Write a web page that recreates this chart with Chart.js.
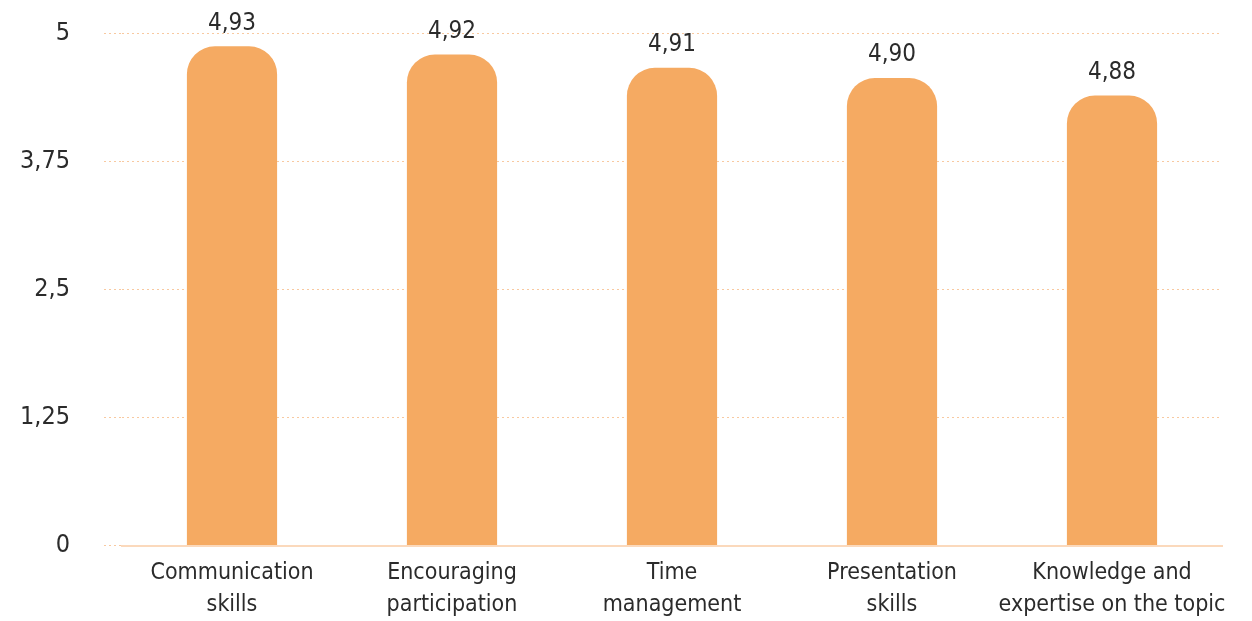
<!DOCTYPE html>
<html>
<head>
<meta charset="utf-8">
<script src="https://cdn.jsdelivr.net/npm/chart.js@4/dist/chart.umd.min.js"></script>
<style>
  html, body { margin: 0; padding: 0; background: #fff; }
  #wrap { width: 1252px; height: 621px; }
</style>
</head>
<body>
<div id="wrap"><canvas id="barChart" width="1252" height="621"></canvas></div>
<script>
// categorias (multilinea) y valores
const categorias = [
  ['Communication', 'skills'],
  ['Encouraging', 'participation'],
  ['Time', 'management'],
  ['Presentation', 'skills'],
  ['Knowledge and', 'expertise on the topic']
];
// altura de las barras tal como aparecen en la imagen
const alturas = [4.87, 4.79, 4.66, 4.56, 4.39];
// etiquetas impresas encima de cada barra
const etiquetas = ['4,93', '4,92', '4,91', '4,90', '4,88'];
const ticksY = [0, 1.25, 2.5, 3.75, 5];

const fuente = '"Liberation Sans Narrow", "DejaVu Sans Condensed", "Roboto", sans-serif';
const naranja = '#F5AA62';
const rejilla = '#F8C9A0';

// plugin sencillo para escribir el valor encima de cada barra
const etiquetasPlugin = {
  id: 'etiquetasBarras',
  afterDatasetsDraw(chart) {
    const ctx = chart.ctx;
    const meta = chart.getDatasetMeta(0);
    ctx.save();
    ctx.fillStyle = '#2b2b2b';
    ctx.font = '24px ' + fuente;
    ctx.textAlign = 'center';
    ctx.textBaseline = 'bottom';
    meta.data.forEach((bar, i) => {
      ctx.fillText(etiquetas[i], bar.x, bar.y - 11);
    });
    ctx.restore();
  }
};

new Chart(document.getElementById('barChart'), {
  type: 'bar',
  data: {
    labels: categorias,
    datasets: [{
      data: alturas,
      backgroundColor: naranja,
      borderRadius: { topLeft: 28, topRight: 28, bottomLeft: 0, bottomRight: 0 },
      borderSkipped: 'bottom',
      barPercentage: 0.41,
      categoryPercentage: 1
    }]
  },
  options: {
    responsive: false,
    animation: false,
    layout: { padding: { top: 33, right: 30, bottom: -4, left: 0 } },
    plugins: { legend: { display: false }, tooltip: { enabled: false } },
    scales: {
      x: {
        grid: { display: false },
        border: { display: true, color: '#FBD9BC', width: 2 },
        ticks: {
          color: '#2b2b2b',
          font: { family: fuente, size: 23, lineHeight: 1.38 },
          padding: 4,
          maxRotation: 0,
          autoSkip: false
        }
      },
      y: {
        min: 0,
        max: 5,
        afterBuildTicks: s => { s.ticks = ticksY.map(v => ({ value: v })); },
        afterFit: s => { s.width = 122; s.paddingTop = 0; s.paddingBottom = 0; },
        border: { display: false, dash: [2, 3] },
        grid: {
          color: rejilla,
          lineWidth: 1,
          tickLength: 18,
          drawTicks: true,
          tickColor: rejilla,
          tickBorderDash: [2, 3]
        },
        ticks: {
          color: '#2b2b2b',
          font: { family: fuente, size: 25 },
          padding: 34,
          callback: v => String(v).replace('.', ',')
        }
      }
    }
  },
  plugins: [etiquetasPlugin]
});
</script>
</body>
</html>
